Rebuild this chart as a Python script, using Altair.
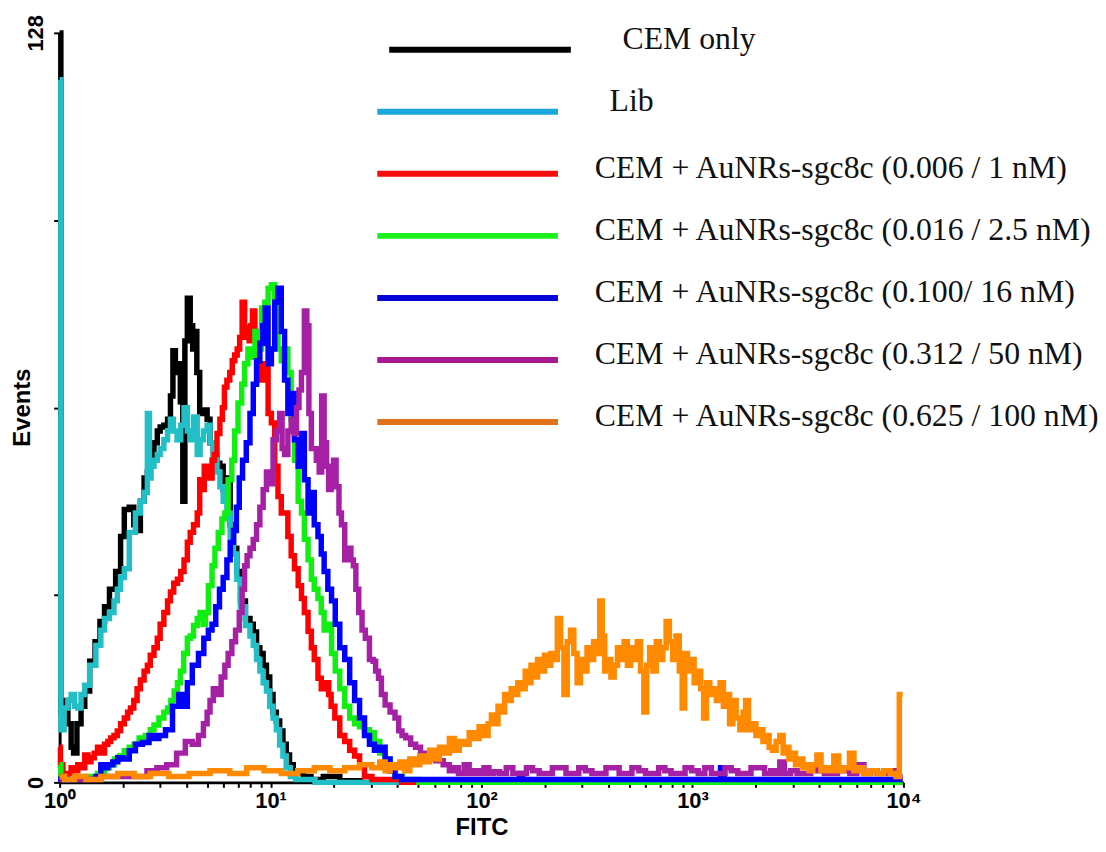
import altair as alt
import pandas as pd

# ---------------- data (channel 0..1023 on a 4-decade log scale, events) ----------------
series_names = [
    "CEM only",
    "Lib",
    "CEM + AuNRs-sgc8c (0.006 / 1 nM)",
    "CEM + AuNRs-sgc8c (0.016 / 2.5 nM)",
    "CEM + AuNRs-sgc8c (0.100/ 16 nM)",
    "CEM + AuNRs-sgc8c (0.312 / 50 nM)",
    "CEM + AuNRs-sgc8c (0.625 / 100 nM)",
]

cem_only = [(0,128),(3,12),(8,14),(12,10),(16,6),(18,5),(24,10),(28,13),(33,15.6),(40,20.7),(46,24),(52,27.5),
            (57,30),(64,33),(72,36),(76,42),(81,46.6),(88,47),(92,44),(96,43),(100,48),(105,52),(108,53),(112,55),
            (117,58),(120,60),(124,60.7),(129,61),(133,62),(136,66),(139,73.7),(142,70),(145,71.5),(148,65),(151,48),
            (153,75.4),(157,82.7),(160,78),(163,74),(165,77),(168,70),(172,63),(177,63.6),(181,62),(184,58),(189,55),
            (193,54.5),(196,54),(201,50),(205,52),(209,44),(213,40),(217,36),(222,31),(229,28),(233,27),(237,25.7),
            (241,23),(245,22),(249,20),(253,18),(257,15),(261,12),(265,10.5),(269,8.8),(273,6.5),(277,4.7),(281,3),
            (286,2),(292,1.5),(300,1),(310,0.5),(330,1),(350,0.3),(380,0),(1023,0)]

lib = [(0,120),(3,9),(8,12.7),(12,14),(16,15),(20,13),(24,12.7),(28,15),(33,16.6),(40,20),(48,23.4),(52,26),(57,28),
       (64,29),(68,31),(72,33),(76,35),(81,36.5),(88,42.7),(96,46),(100,48),(105,49.5),(108,63),(110,52),(112,54),
       (117,55),(120,56),(124,57),(129,58.5),(133,60),(136,62),(140,60),(145,58.5),(149,61),(153,64),(157,60),
       (160,58.5),(165,62.4),(169,56),(172,58.5),(177,60),(181,61),(184,58),(189,55.6),(193,53),(196,50.5),(201,48),
       (205,46),(209,42),(213,39),(217,34.7),(222,30),(229,26.8),(233,25),(237,23.4),(241,21),(245,19),(249,17),
       (253,15.6),(257,13),(261,11),(265,9),(269,6.4),(273,4.5),(277,2.5),(283,1),(290,0.5),(300,0.5),(320,0),(1023,0)]

aunr_1nm = [(0,6),(2,3),(6,1.4),(12,1.5),(16,2.5),(20,2),(24,3),(28,2.5),(33,4.7),(36,3.5),(40,4.2),(44,5),(48,6),
            (52,5),(57,6.5),(60,7),(64,7.6),(68,8),(72,8.8),(76,10),(81,11),(84,12),(88,12.7),(92,14),(96,16),(100,17.5),
            (105,19),(108,20),(112,21.7),(117,23),(120,24.6),(124,27),(129,29),(133,31),(136,32.5),(141,34),(145,34.7),
            (149,36),(153,38),(157,41),(160,42.7),(165,44),(169,46),(171,51.7),(174,50),(177,54),(180,52),(183,52),
            (187,55),(189,56),(193,59.6),(196,62),(199,64),(201,67.5),(205,68.7),(208,70),(211,72),(214,73),(217,74),
            (220,76),(223,82),(226,77.7),(229,76),(231,75.4),(233,78),(235,80.5),(239,77),(241,74),(243,71.5),
            (247,68.7),(251,71.5),(255,63),(259,61.4),(263,54),(267,48.8),(271,46),(275,46),(279,42),(283,38.7),
            (287,36.5),(292,33.6),(295,31.4),(299,29),(304,25.8),(307,23),(311,21),(316,17.8),(319,16),(325,17),
            (328,15),(331,13),(337,11),(343,8),(349,7),(355,5.5),(361,4.5),(367,3),(373,1),(385,0.5),(400,0.5),
            (430,0),(1023,0)]

aunr_2_5nm = [(0,3),(3,1),(8,0.5),(24,0.5),(40,1),(52,1.5),(57,2.5),(64,3),(69,4),(76,4.5),(81,5.4),(88,6),(93,6.5),
              (100,7.6),(108,8),(112,9),(117,9.8),(124,11),(129,12),(133,12.7),(137,14),(141,15.6),(145,17),(148,19),
              (153,22),(157,24.6),(160,25),(165,26.8),(169,28),(172,29),(176,27),(178,29),(183,33.6),(187,37),(190,40),
              (195,42.7),(199,45),(202,46),(207,51.7),(211,55),(214,60),(219,64.8),(223,68),(226,71.5),(231,74),
              (235,72.6),(239,77),(243,74),(247,81),(251,82),(255,84.4),(259,85),(263,81),(267,74),(271,72),(275,74),
              (279,70),(283,62),(287,55),(292,48),(295,46),(299,41.5),(304,38),(307,34.7),(311,33),(316,31.4),(319,29),
              (323,26),(328,27),(332,22),(337,19),(343,16),(349,13),(355,11),(361,10),(367,9.5),(373,9),(379,8.5),
              (385,7),(392,5),(398,4),(404,2),(410,1),(422,0.5),(450,0),(1023,0)]

aunr_16nm = [(0,1),(3,0.5),(40,0.5),(48,1),(52,3),(57,2.5),(60,3),(69,3.5),(72,4.2),(81,4),(88,5.4),(96,6.5),(105,6.8),
             (112,8),(117,7.5),(124,8),(133,9),(141,13),(148,15),(153,13),(157,17),(165,20),(172,22),(178,24.6),
             (183,26),(187,27),(192,30),(196,33),(201,35),(205,38),(209,41),(213,43),(216,47),(220,52),(224,55),
             (229,58),(233,63),(237,68),(241,72),(245,75),(248,78),(251,81),(255,71.5),(259,74),(263,82),(267,84.4),
             (271,77),(275,68.7),(279,63),(283,66.4),(287,58.5),(292,54),(295,59.6),(299,51.7),(304,46),(307,49.5),
             (311,44),(316,42),(319,39),(323,36),(328,33),(332,31),(337,27),(343,23),(349,21),(355,17),(361,14),
             (367,11),(373,8),(379,6.5),(385,5.5),(392,6),(398,4),(404,2),(410,1),(420,0.5),(500,0.5),(556,0.5),
             (560,1.5),(564,0.5),(800,0.5),(804,2.5),(809,0.5),(1023,0.5)]

aunr_50nm = [(0,0.5),(100,1),(112,2),(124,2.5),(136,3),(148,5),(157,7),(165,6.5),(172,8),(177,10),(181,12),(184,14),
             (189,16),(193,15),(199,18),(202,20),(207,22),(211,24),(216,26),(220,29),(223,33),(226,37),(229,38.7),
             (233,40),(237,41.5),(241,44),(245,47),(249,50),(253,53),(257,51),(261,58.5),(265,60),(269,63),(271,57),
             (275,56),(279,60),(283,62),(286,59.6),(289,64),(292,67),(295,70),(299,80.5),(301,78),(304,63),(307,57),
             (310,57),(313,55),(317,53),(319,66),(323,58),(325,54),(328,50),(331,53),(334,55),(337,50.5),(341,46),
             (343,44),(349,38),(352,40),(355,38),(358,37),(361,33),(365,29),(369,26),(373,24.6),(379,21),(382,20.7),
             (385,19),(389,17.8),(392,15),(398,13.2),(404,12),(410,11),(413,8.8),(418,8),(422,7.6),(430,6.5),(434,6),
             (442,5),(446,4.2),(452,4),(461,3.7),(470,3),(476,2),(480,2.5),(488,1.5),(494,3),(500,1.5),(506,2),
             (512,1.5),(518,2.5),(524,1.5),(530,1.8),(538,1.5),(546,2.5),(554,1.5),(563,1.5),(570,2.5),(578,2),
             (586,1.5),(594,1.5),(602,2.5),(611,2.5),(618,1.5),(626,1.5),(634,2.5),(642,2),(650,1.5),(659,1.5),
             (667,2.5),(675,2.5),(683,1.5),(690,1.5),(699,2.5),(707,2),(715,1.5),(723,1.5),(731,2.5),(738,2),
             (746,1.5),(755,1.5),(763,2.5),(771,2),(779,1.5),(787,2.5),(795,1.5),(804,1.5),(811,2.5),(819,2),
             (827,1.5),(835,1.5),(843,2.5),(852,2.5),(859,1.5),(867,2),(872,1.5),(876,3.5),(883,1.5),(891,2),
             (899,1.5),(907,1.5),(916,2.5),(924,2),(932,1.5),(940,1.5),(948,2.5),(955,2),(963,1.5),(972,3),
             (980,1.5),(988,2),(996,1.5),(1004,1.5),(1012,2),(1020,1),(1023,1)]

aunr_100nm = [(0,1),(12,0.5),(24,1),(40,0.5),(60,1),(81,1.5),(100,1),(120,1.5),(145,1),(169,1.5),(196,2),(217,1.5),
              (237,2.5),(259,2),(279,1.5),(299,2),(319,2.5),(337,2),(355,2.5),(373,3),(385,2.5),(392,3.5),(398,2),
              (404,3),(410,2.5),(416,3.5),(422,2),(428,4),(434,3),(440,4.5),(446,3.5),(452,5.5),(458,4),(464,6),
              (470,5),(476,7.5),(482,5.5),(488,7),(494,6.5),(500,8.5),(506,7.5),(512,9.5),(518,8),(522,10),(526,11.5),
              (530,10),(534,13),(538,12),(542,15),(546,14),(550,16),(554,15),(558,17),(563,16),(567,19),(570,17),
              (574,20),(578,18),(582,21),(587,19),(590,21.7),(594,20),(598,22),(602,21),(606,28),(610,23),(614,15),
              (618,24),(622,26),(626,22),(630,17),(634,21),(638,19),(642,23),(646,21),(650,24),(654,22),(657,31),
              (660,25),(663,19),(667,21),(671,18),(675,20),(679,23),(683,21),(687,24),(691,20),(695,23),(699,21),
              (703,24),(707,19),(711,12),(714,20),(718,23),(722,19),(726,24),(730,21),(734,23),(738,27.5),(742,24),
              (746,21),(750,25),(754,19),(757,12.7),(760,22),(764,19),(768,21),(772,17),(776,19),(780,16),(783,11),
              (787,17),(791,15),(795,16),(799,14),(804,17),(807,13),(811,15),(815,10),(819,14),(823,11),(828,9),
              (831,12),(834,14),(838,9),(843,10),(847,8),(852,9),(855,7),(859,8),(863,6),(867,5.5),(872,7),(876,8),
              (880,5),(883,6),(887,4),(891,5),(895,3),(900,4),(904,2.5),(907,3),(912,2),(916,3),(922,4.7),(926,2),
              (931,2.5),(936,2),(943,4.5),(948,2),(955,2.5),(962,5),(966,2),(972,2.5),(979,1.5),(988,2),(996,1.5),
              (1004,2),(1012,1.5),(1018,1),(1020,15),(1023,15)]

series_points = [cem_only, lib, aunr_1nm, aunr_2_5nm, aunr_16nm, aunr_50nm, aunr_100nm]

x_tick_values = [1, 2, 3, 4, 5, 6, 7, 8, 9,
                 10, 20, 30, 40, 50, 60, 70, 80, 90,
                 100, 200, 300, 400, 500, 600, 700, 800, 900,
                 1000, 2000, 3000, 4000, 5000, 6000, 7000, 8000, 9000, 10000]
y_tick_values = [0, 32, 64, 96, 128]

# ---------------- styles ----------------
curve_colors = ["#000000", "#22bfc6", "#ff0000", "#11ee11", "#0000ff", "#a620a6", "#ff8a00"]
legend_colors = ["#000000", "#1aa8dc", "#f50d0d", "#1ef01e", "#0505d8", "#a8198f", "#e0701a"]
SANS = "Liberation Sans Narrow, Arial Narrow, Liberation Sans, Arial, sans-serif"
SERIF = "Liberation Serif, Times New Roman, serif"

frames = []
for i, (name, pts) in enumerate(zip(series_names, series_points)):
    d = pd.DataFrame(pts, columns=["channel", "events"])
    d["series"] = name
    d["rank"] = i
    frames.append(d)
data = pd.concat(frames, ignore_index=True)
data["fitc"] = 10 ** (data["channel"] / 256.0)

x_label_expr = ("datum.value == 1 ? '10\u2070' : datum.value == 10 ? '10\u00b9' : "
                "datum.value == 100 ? '10\u00b2' : datum.value == 1000 ? '10\u00b3' : "
                "datum.value == 10000 ? '10\u2074' : ''")

curves = alt.Chart(data).mark_line(interpolate="step", strokeWidth=5.5).encode(
    x=alt.X("fitc:Q",
            scale=alt.Scale(type="log", domain=[1, 10000], nice=False),
            axis=alt.Axis(values=x_tick_values, labelExpr=x_label_expr, title="FITC",
                          titleFont=SANS, titleFontSize=24, titleFontWeight="bold", titleColor="black",
                          titleX=425, titleY=45, titleBaseline="middle", titleAlign="center",
                          labelFont=SANS, labelFontSize=22, labelFontWeight="bold", labelColor="black",
                          labelPadding=3, labelFlush=False, labelOverlap=False,
                          tickSize=5, tickWidth=2, tickColor="black",
                          domainWidth=3, domainColor="black", grid=False)),
    y=alt.Y("events:Q",
            scale=alt.Scale(domain=[0, 128], nice=False, zero=True),
            axis=alt.Axis(values=y_tick_values,
                          labelExpr="datum.value == 0 || datum.value == 128 ? datum.label : ''",
                          title="Events", titleFont=SANS, titleFontSize=24, titleFontWeight="bold",
                          titleColor="black", titleAngle=270, titleX=-37, titleY=377,
                          titleBaseline="middle", titleAlign="center",
                          labelFont=SANS, labelFontSize=22, labelFontWeight="bold", labelColor="black",
                          labelAngle=270, labelAlign="center", labelBaseline="bottom",
                          labelPadding=6, labelFlush=False, labelOverlap=False,
                          tickSize=6, tickWidth=2, tickColor="black",
                          domainWidth=3, domainColor="black", grid=False)),
    color=alt.Color("series:N", scale=alt.Scale(domain=series_names, range=curve_colors), legend=None),
    detail="rank:O",
)

# ---------------- hand-drawn legend ----------------
legend_df = pd.DataFrame({"label": series_names})
y_leg = alt.Y("label:N", scale=alt.Scale(type="point", domain=series_names, range=[17, 392], padding=0),
              axis=None)
stroke_leg = alt.Stroke("label:N", scale=alt.Scale(domain=series_names, range=legend_colors), legend=None)

base_leg = alt.Chart(legend_df)
rule_first = base_leg.transform_filter(
    alt.FieldEqualPredicate(field="label", equal=series_names[0])
).mark_rule(strokeWidth=6).encode(y=y_leg, x=alt.value(332), x2=alt.value(515), stroke=stroke_leg)
rule_rest = base_leg.transform_filter(
    alt.FieldOneOfPredicate(field="label", oneOf=series_names[1:])
).mark_rule(strokeWidth=6).encode(y=y_leg, x=alt.value(320), x2=alt.value(502), stroke=stroke_leg)

text_first = base_leg.transform_filter(
    alt.FieldEqualPredicate(field="label", equal=series_names[0])
).mark_text(align="left", baseline="middle", font=SERIF, fontSize=32, dy=-11, color="#111111").encode(
    y=y_leg, x=alt.value(567), text="label:N")
text_lib = base_leg.transform_filter(
    alt.FieldEqualPredicate(field="label", equal=series_names[1])
).mark_text(align="left", baseline="middle", font=SERIF, fontSize=32, dy=-11, color="#111111").encode(
    y=y_leg, x=alt.value(554), text="label:N")
text_rest = base_leg.transform_filter(
    alt.FieldOneOfPredicate(field="label", oneOf=series_names[2:])
).mark_text(align="left", baseline="middle", font=SERIF, fontSize=32, dy=-6, color="#111111").encode(
    y=y_leg, x=alt.value(539), text="label:N")

chart = alt.layer(
    curves, rule_first, rule_rest, text_first, text_lib, text_rest
).resolve_scale(
    y="independent"
).properties(
    width=850, height=755,
    autosize=alt.AutoSizeParams(type="none"),
    padding={"left": 52, "top": 22, "right": 196, "bottom": 59},
    background="white",
).configure_view(stroke=None)

chart.save("out.html", embed_options={"renderer": "svg", "actions": False})
